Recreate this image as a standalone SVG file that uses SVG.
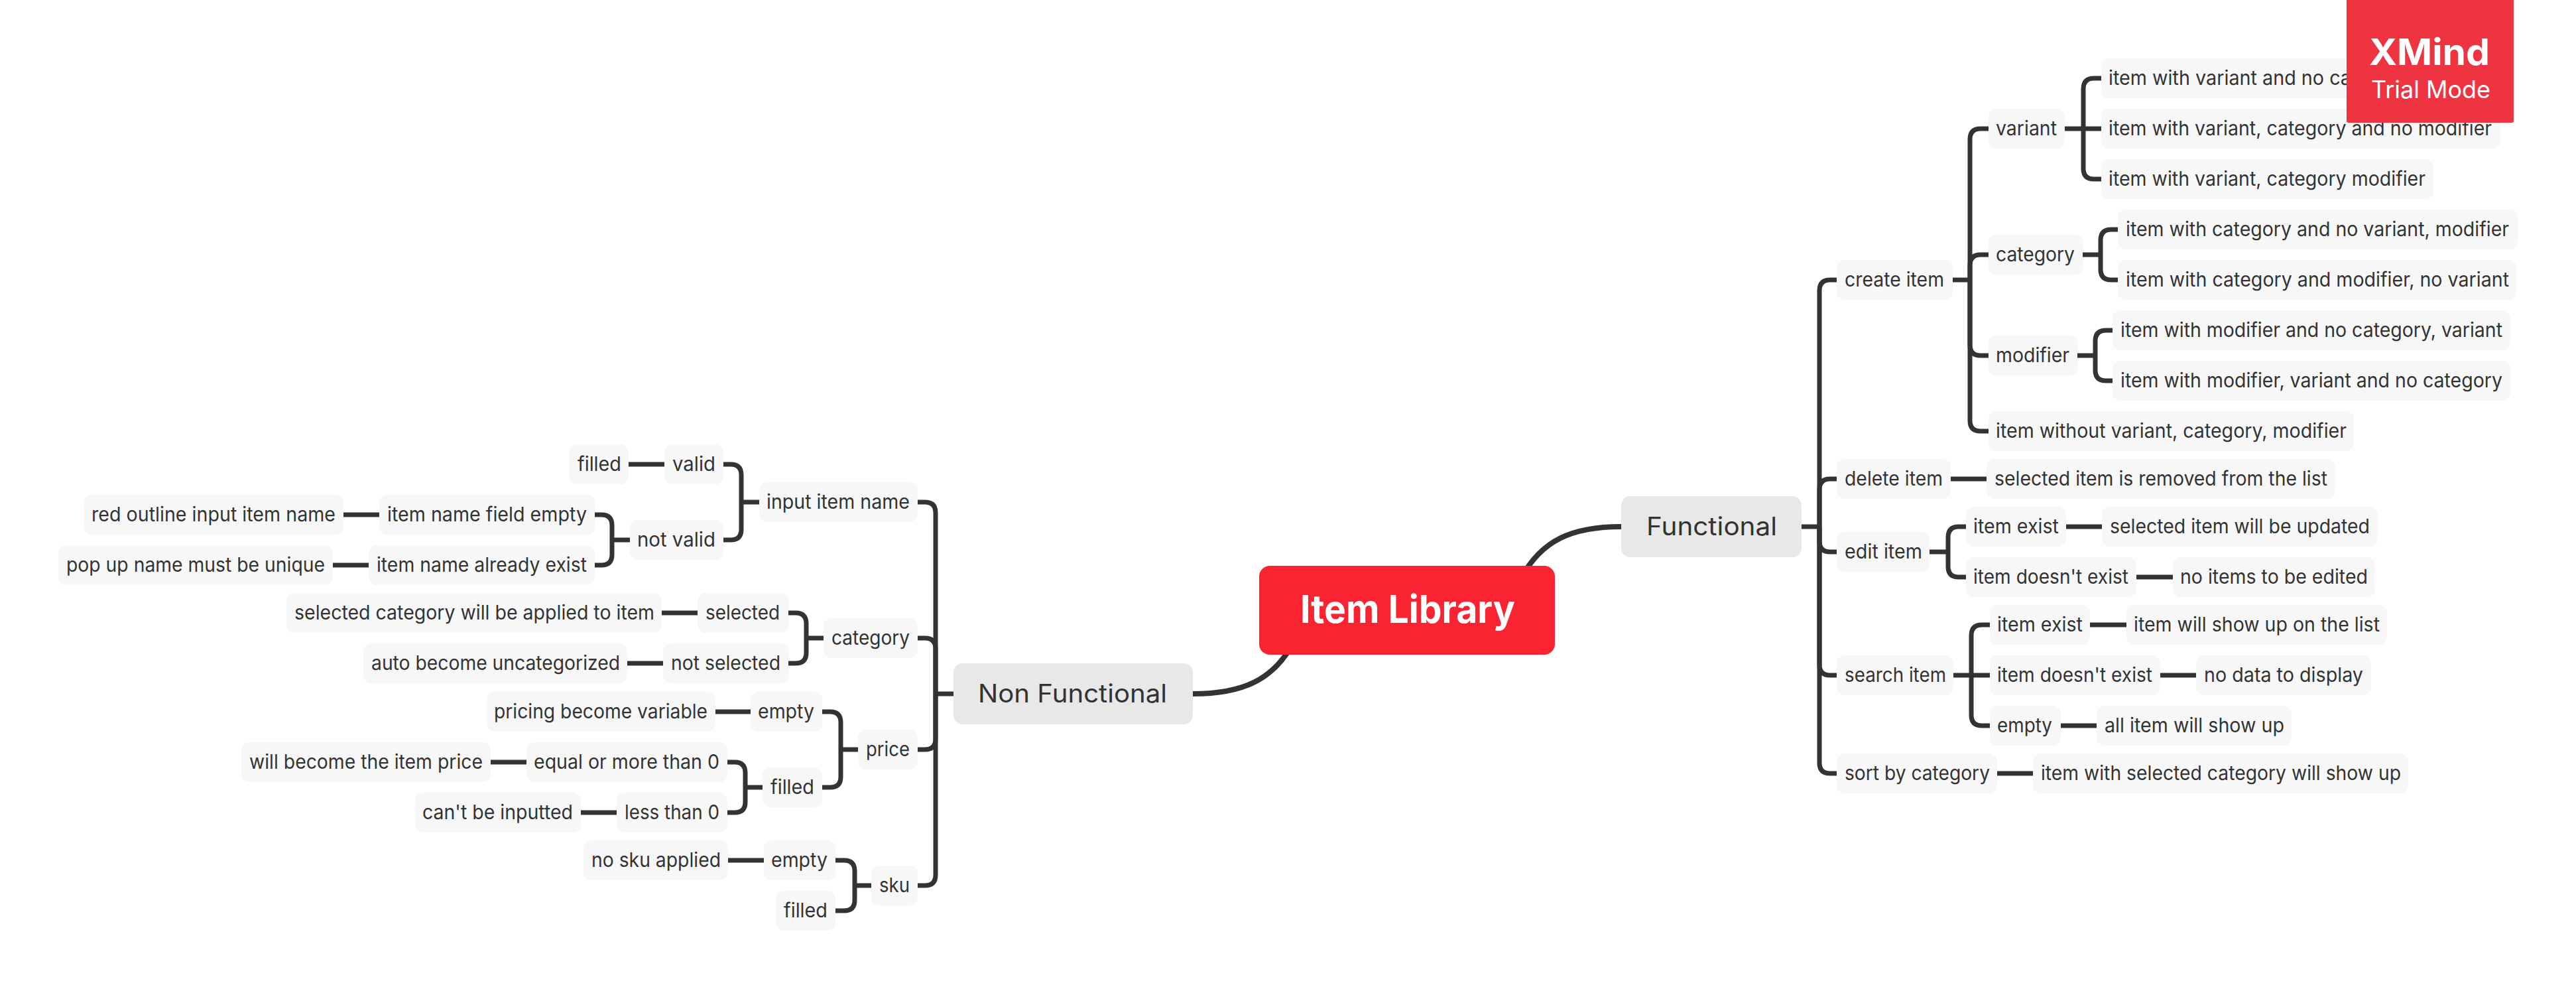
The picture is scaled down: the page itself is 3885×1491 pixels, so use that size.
<svg xmlns="http://www.w3.org/2000/svg" width="3885" height="1491" viewBox="0 0 3885 1491">
<style>
text{font-family:"Inter","Noto Sans","Liberation Sans",sans-serif;fill:#333}
.b rect{fill:#f7f7f7}
.b text{font-size:30px}
.m rect{fill:#e8e8e8}
.m text{font-size:38px}
#connectors path{fill:none;stroke:#333;stroke-width:7}
#connectors path.main{stroke-width:8}
</style>
<rect width="3885" height="1491" fill="#fff"/>
<g id="connectors">
<path class="main" d="M2445 794C2370 794 2325 815 2295 870"/>
<path class="main" d="M1799 1046C1874 1046 1920 1025 1950 970"/>
<path d="M2717 794H2744"/>
<path d="M2770 422H2760Q2744 422 2744 438V794"/>
<path d="M2770 722H2760Q2744 722 2744 738V794"/>
<path d="M2770 832H2760Q2744 832 2744 816V794"/>
<path d="M2770 1018H2760Q2744 1018 2744 1002V794"/>
<path d="M2770 1166H2760Q2744 1166 2744 1150V794"/>
<path d="M2945 422H2971"/>
<path d="M2999 194H2987Q2971 194 2971 210V422"/>
<path d="M2999 384H2987Q2971 384 2971 400V422"/>
<path d="M2999 536H2987Q2971 536 2971 520V422"/>
<path d="M2999 650H2987Q2971 650 2971 634V422"/>
<path d="M3114 194H3169"/>
<path d="M3169 118H3158Q3142 118 3142 134V194"/>
<path d="M3169 270H3158Q3142 270 3142 254V194"/>
<path d="M3141 384H3168"/>
<path d="M3194 346H3184Q3168 346 3168 362V384"/>
<path d="M3194 422H3184Q3168 422 3168 406V384"/>
<path d="M3133 536H3160"/>
<path d="M3186 498H3176Q3160 498 3160 514V536"/>
<path d="M3186 574H3176Q3160 574 3160 558V536"/>
<path d="M2942 722H2996"/>
<path d="M2910 832H2938"/>
<path d="M2965 794H2954Q2938 794 2938 810V832"/>
<path d="M2965 870H2954Q2938 870 2938 854V832"/>
<path d="M3116 794H3170"/>
<path d="M3222 870H3277"/>
<path d="M2946 1018H3001"/>
<path d="M3001 942H2989Q2973 942 2973 958V1018"/>
<path d="M3001 1094H2989Q2973 1094 2973 1078V1018"/>
<path d="M3152 942H3207"/>
<path d="M3258 1018H3312"/>
<path d="M3108 1094H3162"/>
<path d="M3012 1166H3066"/>
<path d="M1438 1046H1411"/>
<path d="M1384 757H1395Q1411 757 1411 773V1046"/>
<path d="M1384 962H1395Q1411 962 1411 978V1046"/>
<path d="M1384 1130H1395Q1411 1130 1411 1114V1046"/>
<path d="M1384 1335H1395Q1411 1335 1411 1319V1046"/>
<path d="M1145 757H1118"/>
<path d="M1091 700H1102Q1118 700 1118 716V757"/>
<path d="M1091 814H1102Q1118 814 1118 798V757"/>
<path d="M950 814H923"/>
<path d="M897 776H907Q923 776 923 792V814"/>
<path d="M897 852H907Q923 852 923 836V814"/>
<path d="M1242 962H1216"/>
<path d="M1189 924H1200Q1216 924 1216 940V962"/>
<path d="M1189 1000H1200Q1216 1000 1216 984V962"/>
<path d="M1294 1130H1268"/>
<path d="M1240 1073H1252Q1268 1073 1268 1089V1130"/>
<path d="M1240 1187H1252Q1268 1187 1268 1171V1130"/>
<path d="M1150 1187H1124"/>
<path d="M1097 1149H1108Q1124 1149 1124 1165V1187"/>
<path d="M1097 1225H1108Q1124 1225 1124 1209V1187"/>
<path d="M1314 1335H1289"/>
<path d="M1260 1297H1273Q1289 1297 1289 1313V1335"/>
<path d="M1260 1373H1273Q1289 1373 1289 1357V1335"/>
<path d="M948 700H1002"/>
<path d="M518 776H572"/>
<path d="M502 852H556"/>
<path d="M998 924H1052"/>
<path d="M946 1000H1000"/>
<path d="M1079 1073H1132"/>
<path d="M740 1149H794"/>
<path d="M876 1225H930"/>
<path d="M1098 1297H1152"/>
</g>
<g id="central"><rect x="1899" y="853" width="446" height="134" rx="16" fill="#fa2331"/><text x="1961" y="939" font-size="58" font-weight="700" style="fill:#fff" textLength="324" lengthAdjust="spacingAndGlyphs">Item Library</text></g>
<g id="functional" class="m"><rect x="2445" y="748" width="272" height="92" rx="14"/><text x="2483" y="807" textLength="197" lengthAdjust="spacingAndGlyphs">Functional</text></g>
<g id="non-functional" class="m"><rect x="1438" y="1000" width="361" height="92" rx="14"/><text x="1475" y="1059" textLength="285" lengthAdjust="spacingAndGlyphs">Non Functional</text></g>

<g id="create-item" class="b"><rect x="2770" y="392" width="175" height="60" rx="12"/><text x="2782" y="432" textLength="150" lengthAdjust="spacingAndGlyphs">create item</text></g>
<g id="variant" class="b"><rect x="2999" y="164" width="115" height="60" rx="12"/><text x="3010" y="204" textLength="92" lengthAdjust="spacingAndGlyphs">variant</text></g>
<g id="v1" class="b"><rect x="3169" y="88" width="602" height="60" rx="12"/><text x="3180" y="128" textLength="366" lengthAdjust="spacingAndGlyphs">item with variant and no ca</text></g>
<g id="v2" class="b"><rect x="3169" y="164" width="602" height="60" rx="12"/><text x="3180" y="204" textLength="578" lengthAdjust="spacingAndGlyphs">item with variant, category and no modifier</text></g>
<g id="v3" class="b"><rect x="3169" y="240" width="501" height="60" rx="12"/><text x="3180" y="280" textLength="478" lengthAdjust="spacingAndGlyphs">item with variant, category modifier</text></g>
<g id="category" class="b"><rect x="2999" y="354" width="142" height="60" rx="12"/><text x="3010" y="394" textLength="119" lengthAdjust="spacingAndGlyphs">category</text></g>
<g id="c1" class="b"><rect x="3194" y="316" width="603" height="60" rx="12"/><text x="3206" y="356" textLength="578" lengthAdjust="spacingAndGlyphs">item with category and no variant, modifier</text></g>
<g id="c2" class="b"><rect x="3194" y="392" width="601" height="60" rx="12"/><text x="3206" y="432" textLength="578" lengthAdjust="spacingAndGlyphs">item with category and modifier, no variant</text></g>
<g id="modifier" class="b"><rect x="2999" y="506" width="134" height="60" rx="12"/><text x="3010" y="546" textLength="111" lengthAdjust="spacingAndGlyphs">modifier</text></g>
<g id="m1" class="b"><rect x="3186" y="468" width="600" height="60" rx="12"/><text x="3198" y="508" textLength="576" lengthAdjust="spacingAndGlyphs">item with modifier and no category, variant</text></g>
<g id="m2" class="b"><rect x="3186" y="544" width="600" height="60" rx="12"/><text x="3198" y="584" textLength="576" lengthAdjust="spacingAndGlyphs">item with modifier, variant and no category</text></g>
<g id="no-attrs" class="b"><rect x="2999" y="620" width="551" height="60" rx="12"/><text x="3010" y="660" textLength="529" lengthAdjust="spacingAndGlyphs">item without variant, category, modifier</text></g>

<g id="delete-item" class="b"><rect x="2770" y="692" width="172" height="60" rx="12"/><text x="2782" y="732" textLength="148" lengthAdjust="spacingAndGlyphs">delete item</text></g>
<g id="delete-result" class="b"><rect x="2996" y="692" width="526" height="60" rx="12"/><text x="3008" y="732" textLength="502" lengthAdjust="spacingAndGlyphs">selected item is removed from the list</text></g>
<g id="edit-item" class="b"><rect x="2770" y="802" width="140" height="60" rx="12"/><text x="2782" y="842" textLength="117" lengthAdjust="spacingAndGlyphs">edit item</text></g>
<g id="edit-exist" class="b"><rect x="2965" y="764" width="151" height="60" rx="12"/><text x="2976" y="804" textLength="129" lengthAdjust="spacingAndGlyphs">item exist</text></g>
<g id="edit-updated" class="b"><rect x="3170" y="764" width="416" height="60" rx="12"/><text x="3182" y="804" textLength="392" lengthAdjust="spacingAndGlyphs">selected item will be updated</text></g>
<g id="edit-not" class="b"><rect x="2965" y="840" width="257" height="60" rx="12"/><text x="2976" y="880" textLength="234" lengthAdjust="spacingAndGlyphs">item doesn't exist</text></g>
<g id="edit-none" class="b"><rect x="3277" y="840" width="305" height="60" rx="12"/><text x="3288" y="880" textLength="283" lengthAdjust="spacingAndGlyphs">no items to be edited</text></g>
<g id="search-item" class="b"><rect x="2770" y="988" width="176" height="60" rx="12"/><text x="2782" y="1028" textLength="153" lengthAdjust="spacingAndGlyphs">search item</text></g>
<g id="search-exist" class="b"><rect x="3001" y="912" width="151" height="60" rx="12"/><text x="3012" y="952" textLength="129" lengthAdjust="spacingAndGlyphs">item exist</text></g>
<g id="search-list" class="b"><rect x="3207" y="912" width="393" height="60" rx="12"/><text x="3218" y="952" textLength="371" lengthAdjust="spacingAndGlyphs">item will show up on the list</text></g>
<g id="search-not" class="b"><rect x="3001" y="988" width="257" height="60" rx="12"/><text x="3012" y="1028" textLength="234" lengthAdjust="spacingAndGlyphs">item doesn't exist</text></g>
<g id="search-nodata" class="b"><rect x="3312" y="988" width="264" height="60" rx="12"/><text x="3324" y="1028" textLength="240" lengthAdjust="spacingAndGlyphs">no data to display</text></g>
<g id="search-empty" class="b"><rect x="3001" y="1064" width="107" height="60" rx="12"/><text x="3012" y="1104" textLength="83" lengthAdjust="spacingAndGlyphs">empty</text></g>
<g id="search-all" class="b"><rect x="3162" y="1064" width="294" height="60" rx="12"/><text x="3174" y="1104" textLength="271" lengthAdjust="spacingAndGlyphs">all item will show up</text></g>
<g id="sort" class="b"><rect x="2770" y="1136" width="242" height="60" rx="12"/><text x="2782" y="1176" textLength="219" lengthAdjust="spacingAndGlyphs">sort by category</text></g>
<g id="sort-result" class="b"><rect x="3066" y="1136" width="566" height="60" rx="12"/><text x="3078" y="1176" textLength="543" lengthAdjust="spacingAndGlyphs">item with selected category will show up</text></g>

<g id="input-name" class="b"><rect x="1145" y="727" width="239" height="60" rx="12"/><text x="1156" y="767" textLength="216" lengthAdjust="spacingAndGlyphs">input item name</text></g>
<g id="valid" class="b"><rect x="1002" y="670" width="89" height="60" rx="12"/><text x="1014" y="710" textLength="65" lengthAdjust="spacingAndGlyphs">valid</text></g>
<g id="valid-filled" class="b"><rect x="859" y="670" width="89" height="60" rx="12"/><text x="871" y="710" textLength="66" lengthAdjust="spacingAndGlyphs">filled</text></g>
<g id="not-valid" class="b"><rect x="950" y="784" width="141" height="60" rx="12"/><text x="961" y="824" textLength="118" lengthAdjust="spacingAndGlyphs">not valid</text></g>
<g id="name-empty" class="b"><rect x="572" y="746" width="325" height="60" rx="12"/><text x="584" y="786" textLength="301" lengthAdjust="spacingAndGlyphs">item name field empty</text></g>
<g id="red-outline" class="b"><rect x="127" y="746" width="391" height="60" rx="12"/><text x="138" y="786" textLength="368" lengthAdjust="spacingAndGlyphs">red outline input item name</text></g>
<g id="name-exist" class="b"><rect x="556" y="822" width="341" height="60" rx="12"/><text x="568" y="862" textLength="317" lengthAdjust="spacingAndGlyphs">item name already exist</text></g>
<g id="popup" class="b"><rect x="88" y="822" width="414" height="60" rx="12"/><text x="100" y="862" textLength="390" lengthAdjust="spacingAndGlyphs">pop up name must be unique</text></g>
<g id="nf-category" class="b"><rect x="1242" y="932" width="142" height="60" rx="12"/><text x="1254" y="972" textLength="118" lengthAdjust="spacingAndGlyphs">category</text></g>
<g id="cat-selected" class="b"><rect x="1052" y="894" width="137" height="60" rx="12"/><text x="1064" y="934" textLength="112" lengthAdjust="spacingAndGlyphs">selected</text></g>
<g id="cat-applied" class="b"><rect x="432" y="894" width="566" height="60" rx="12"/><text x="444" y="934" textLength="543" lengthAdjust="spacingAndGlyphs">selected category will be applied to item</text></g>
<g id="cat-not" class="b"><rect x="1000" y="970" width="189" height="60" rx="12"/><text x="1012" y="1010" textLength="165" lengthAdjust="spacingAndGlyphs">not selected</text></g>
<g id="cat-auto" class="b"><rect x="548" y="970" width="398" height="60" rx="12"/><text x="560" y="1010" textLength="375" lengthAdjust="spacingAndGlyphs">auto become uncategorized</text></g>
<g id="price" class="b"><rect x="1294" y="1100" width="90" height="60" rx="12"/><text x="1306" y="1140" textLength="66" lengthAdjust="spacingAndGlyphs">price</text></g>
<g id="price-empty" class="b"><rect x="1132" y="1043" width="108" height="60" rx="12"/><text x="1143" y="1083" textLength="85" lengthAdjust="spacingAndGlyphs">empty</text></g>
<g id="price-variable" class="b"><rect x="734" y="1043" width="345" height="60" rx="12"/><text x="745" y="1083" textLength="322" lengthAdjust="spacingAndGlyphs">pricing become variable</text></g>
<g id="price-filled" class="b"><rect x="1150" y="1157" width="90" height="60" rx="12"/><text x="1162" y="1197" textLength="66" lengthAdjust="spacingAndGlyphs">filled</text></g>
<g id="price-more" class="b"><rect x="794" y="1119" width="303" height="60" rx="12"/><text x="805" y="1159" textLength="280" lengthAdjust="spacingAndGlyphs">equal or more than 0</text></g>
<g id="price-will" class="b"><rect x="364" y="1119" width="376" height="60" rx="12"/><text x="376" y="1159" textLength="352" lengthAdjust="spacingAndGlyphs">will become the item price</text></g>
<g id="price-less" class="b"><rect x="930" y="1195" width="167" height="60" rx="12"/><text x="942" y="1235" textLength="143" lengthAdjust="spacingAndGlyphs">less than 0</text></g>
<g id="price-cant" class="b"><rect x="626" y="1195" width="250" height="60" rx="12"/><text x="637" y="1235" textLength="227" lengthAdjust="spacingAndGlyphs">can't be inputted</text></g>
<g id="sku" class="b"><rect x="1314" y="1305" width="70" height="60" rx="12"/><text x="1326" y="1345" textLength="46" lengthAdjust="spacingAndGlyphs">sku</text></g>
<g id="sku-empty" class="b"><rect x="1152" y="1267" width="108" height="60" rx="12"/><text x="1163" y="1307" textLength="85" lengthAdjust="spacingAndGlyphs">empty</text></g>
<g id="sku-none" class="b"><rect x="880" y="1267" width="218" height="60" rx="12"/><text x="892" y="1307" textLength="195" lengthAdjust="spacingAndGlyphs">no sku applied</text></g>
<g id="sku-filled" class="b"><rect x="1170" y="1343" width="90" height="60" rx="12"/><text x="1182" y="1383" textLength="66" lengthAdjust="spacingAndGlyphs">filled</text></g>

<g id="badge"><rect x="3539" y="-6" width="252" height="191" rx="3" fill="#ee3341"/>
<text x="3573" y="98" font-size="55" font-weight="700" style="fill:#fff" textLength="182" lengthAdjust="spacingAndGlyphs">XMind</text>
<text x="3576" y="148" font-size="37" style="fill:#fff" textLength="180" lengthAdjust="spacingAndGlyphs">Trial Mode</text></g>
</svg>
